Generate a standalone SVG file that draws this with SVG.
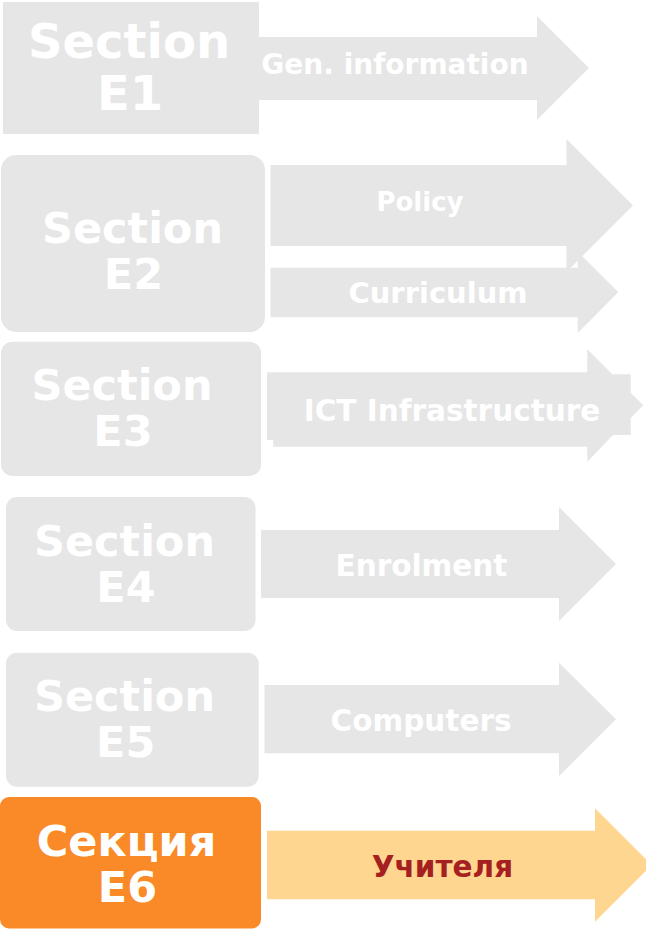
<svg xmlns="http://www.w3.org/2000/svg" width="646" height="930" viewBox="0 0 646 930">
<style>
.box{fill:#e6e6e6}
.arr{fill:#e6e6e6}
.big{font-family:"DejaVu Sans","Liberation Sans",sans-serif;font-weight:bold;fill:#ffffff;text-anchor:middle}
.lbl{font-family:"DejaVu Sans","Liberation Sans",sans-serif;font-weight:bold;fill:#ffffff;text-anchor:middle;font-size:29.5px}
</style>
<rect width="646" height="930" fill="#ffffff"/>

<g id="section-e1">
<rect class="box" x="3" y="2" width="256" height="132"/>
<text class="big" x="129" y="58" font-size="48">Section</text>
<text class="big" x="130" y="110" font-size="48">E1</text>
</g>
<g id="arrow-gen-information">
<polygon class="arr" points="259,37 537,37 537,16 589,68 537,120 537,100 259,100"/>
<text class="lbl" x="395" y="74" font-size="28" style="font-size:28px">Gen. information</text>
</g>

<g id="section-e2">
<rect class="box" x="1" y="155" width="264" height="177" rx="15" ry="15"/>
<text class="big" x="132.5" y="243.3" font-size="43">Section</text>
<text class="big" x="133.5" y="289" font-size="43">E2</text>
</g>
<g id="arrow-curriculum">
<polygon class="arr" points="270.5,267.7 577.7,267.7 577.7,251.7 618.3,292.3 577.7,333 577.7,317.3 270.5,317.3"/>
<text class="lbl" x="438" y="303.3" style="font-size:29px">Curriculum</text>
</g>
<g id="arrow-policy">
<polygon class="arr" points="270.5,165 566.5,165 566.5,139 633,205.5 566.5,272 566.5,246 270.5,246"/>
<text class="lbl" x="420" y="210.7" style="font-size:26px">Policy</text>
</g>

<g id="section-e3">
<rect class="box" x="1" y="341.7" width="260" height="134.3" rx="12" ry="11"/>
<text class="big" x="122" y="400" font-size="43">Section</text>
<text class="big" x="123" y="446" font-size="43">E3</text>
</g>
<g id="arrow-ict-infrastructure">
<polygon class="arr" points="267,372.3 587.3,372.3 587.3,349.3 612.3,374.3 630.7,374.3 630.7,392.7 643.3,405.3 630.7,418 630.7,435 613,435 587.3,461.7 587.3,446.7 273.2,446.7 273.2,440 267,440"/>
<text class="lbl" x="452" y="420.7">ICT Infrastructure</text>
</g>

<g id="section-e4">
<rect class="box" x="6" y="497" width="249.5" height="134" rx="11" ry="11"/>
<text class="big" x="124.5" y="555.7" font-size="43">Section</text>
<text class="big" x="126" y="601.7" font-size="43">E4</text>
</g>
<g id="arrow-enrolment">
<polygon class="arr" points="261,530 559,530 559,507 616,564 559,621 559,598 261,598"/>
<text class="lbl" x="421.5" y="575.7">Enrolment</text>
</g>

<g id="section-e5">
<rect class="box" x="6" y="652.7" width="252.7" height="134" rx="11" ry="11"/>
<text class="big" x="124.5" y="710.7" font-size="43">Section</text>
<text class="big" x="125.7" y="756.7" font-size="43">E5</text>
</g>
<g id="arrow-computers">
<polygon class="arr" points="264.5,685 559,685 559,662.7 616,719.3 559,776 559,753.3 264.5,753.3"/>
<text class="lbl" x="421" y="730.7">Computers</text>
</g>

<g id="section-e6">
<rect x="0" y="797" width="261" height="131.5" rx="9" ry="9" fill="#fa8a28"/>
<text class="big" x="126.5" y="855.7" font-size="43">Секция</text>
<text class="big" x="127.5" y="901.7" font-size="43">E6</text>
</g>
<g id="arrow-teachers">
<polygon points="267,830.7 595,830.7 595,808.3 651.7,865 595,921.7 595,899.3 267,899.3" fill="#ffd68f"/>
<text class="lbl" x="442.5" y="877.3" style="fill:#a52020">Учителя</text>
</g>

<g id="connectors"></g>
</svg>
